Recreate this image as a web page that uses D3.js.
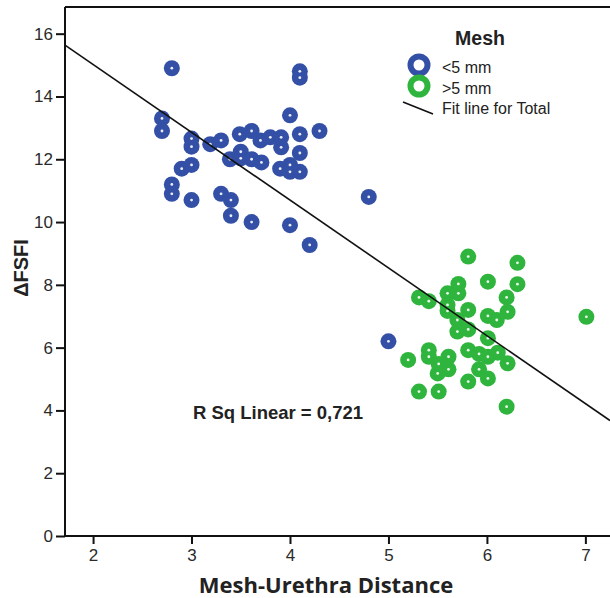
<!DOCTYPE html>
<html><head><meta charset="utf-8">
<script src="https://cdn.jsdelivr.net/npm/d3@7"></script>
<style>body{margin:0;background:#fff;}svg{display:block;}</style>
</head><body>
<svg id="c" width="610" height="598"></svg>
<script>
const blueX = [2.8,4.1,4.1,2.7,2.7,4.0,4.3,3.0,3.0,3.19,3.3,3.49,3.61,3.7,3.8,3.91,3.91,4.1,4.1,3.39,3.5,3.5,3.61,3.71,3.9,4.0,4.0,4.1,2.9,3.0,2.8,2.8,3.0,3.3,3.4,3.4,3.61,4.0,4.2,4.8,5.0];
const blueY = [14.9,14.8,14.6,13.3,12.9,13.4,12.9,12.66,12.4,12.48,12.6,12.8,12.9,12.6,12.7,12.7,12.38,12.8,12.2,12.0,12.24,12.03,12.0,11.9,11.7,11.82,11.6,11.6,11.7,11.82,11.2,10.9,10.7,10.9,10.7,10.2,10.0,9.9,9.27,10.8,6.2];
const greenX = [5.81,6.31,5.71,6.01,6.31,5.31,5.41,5.6,5.71,5.6,5.6,5.81,6.2,6.21,6.01,6.1,7.01,5.7,5.7,5.81,6.01,5.41,5.41,5.2,5.61,5.51,5.61,5.5,5.81,5.92,6.01,6.11,6.21,5.92,6.01,5.81,5.31,5.51,6.2];
const greenY = [8.9,8.7,8.03,8.1,8.02,7.6,7.48,7.73,7.73,7.36,7.17,7.2,7.6,7.14,7.01,6.88,6.98,6.88,6.51,6.58,6.3,5.92,5.71,5.61,5.71,5.48,5.31,5.18,5.92,5.8,5.71,5.84,5.5,5.31,5.02,4.92,4.6,4.6,4.12];
const xTicks = [2,3,4,5,6,7];
const yTicks = [0,2,4,6,8,10,12,14,16];
const fitIntercept = 19.34, fitSlope = -2.16;
const rSqLabel = "R Sq Linear = 0,721";
const legendItems = ["<5 mm", ">5 mm", "Fit line for Total"];
const blueCol = "#3350a6", greenCol = "#2fb53d";

const svg = d3.select("#c");
const x = d3.scaleLinear().domain([1.715, 7.25]).range([65, 610]);
const y = d3.scaleLinear().domain([0, 16.85]).range([536, 7]);

svg.append("line").attr("x1",65).attr("x2",610).attr("y1",7).attr("y2",7).attr("stroke","#111").attr("stroke-width",2);

const xa = svg.append("g").attr("transform","translate(0,536)").call(d3.axisBottom(x).tickValues(xTicks).tickSize(8).tickPadding(5).tickFormat(d3.format("d")));
const ya = svg.append("g").attr("transform","translate(65,0)").call(d3.axisLeft(y).tickValues(yTicks).tickSize(9).tickPadding(3).tickFormat(d3.format("d")));
[xa,ya].forEach(a=>{
  a.select(".domain").attr("stroke","#111").attr("stroke-width",2);
  a.selectAll(".tick line").attr("stroke","#111").attr("stroke-width",2);
  a.selectAll("text").attr("font-family","Liberation Sans, Arial, sans-serif").attr("font-size",17).attr("fill","#2a2a2a");
});
ya.select(".domain").attr("d","M0,7V536");
xa.select(".domain").attr("d","M65,0H610");

const plot = svg.append("g");
function drawPts(xs, ys, col){
  const g = plot.append("g");
  const pts = xs.map((v,i)=>[v,ys[i]]);
  g.selectAll("circle.o").data(pts).join("circle").attr("class","o")
    .attr("cx",d=>x(d[0])).attr("cy",d=>y(d[1])).attr("r",8).attr("fill",col);
  g.selectAll("circle.i").data(pts).join("circle").attr("class","i")
    .attr("cx",d=>x(d[0])).attr("cy",d=>y(d[1])).attr("r",1.4).attr("fill","#fff").attr("opacity",0.9);
}
drawPts(blueX, blueY, blueCol);
drawPts(greenX, greenY, greenCol);

const x0 = 1.715, x1 = 7.25;
svg.append("line").attr("x1",x(x0)).attr("y1",y(fitIntercept+fitSlope*x0)).attr("x2",x(x1)).attr("y2",y(fitIntercept+fitSlope*x1))
  .attr("stroke","#111").attr("stroke-width",1.6);

svg.append("text").attr("x",278).attr("y",419).attr("text-anchor","middle").attr("font-family","Liberation Sans, Arial, sans-serif").attr("font-weight","bold").attr("font-size",18.5).attr("fill","#222").text(rSqLabel);

svg.append("text").attr("x",326).attr("y",593).attr("text-anchor","middle").attr("font-family","Open Sans, sans-serif").attr("font-weight","bold").attr("font-size",22).attr("fill","#222").text("Mesh-Urethra Distance");
svg.append("text").attr("transform","translate(28,268) rotate(-90)").attr("text-anchor","middle").attr("font-family","Liberation Sans, Arial, sans-serif").attr("font-weight","bold").attr("font-size",20).attr("fill","#222").text("ΔFSFI");

const lg = svg.append("g").attr("font-family","Liberation Sans, Arial, sans-serif").attr("fill","#222");
lg.append("text").attr("x",480).attr("y",45).attr("text-anchor","middle").attr("font-weight","bold").attr("font-size",19.5).text("Mesh");
[blueCol, greenCol].forEach((c,i)=>{
  lg.append("circle").attr("cx",419).attr("cy",65+i*21).attr("r",8.5).attr("fill","none").attr("stroke",c).attr("stroke-width",6);
});
lg.append("line").attr("x1",403).attr("y1",102).attr("x2",433).attr("y2",114).attr("stroke","#111").attr("stroke-width",1.6);
legendItems.forEach((t,i)=>{
  lg.append("text").attr("x",442).attr("y",73+i*20.5).attr("font-size",16).text(t);
});
</script>
</body></html>
